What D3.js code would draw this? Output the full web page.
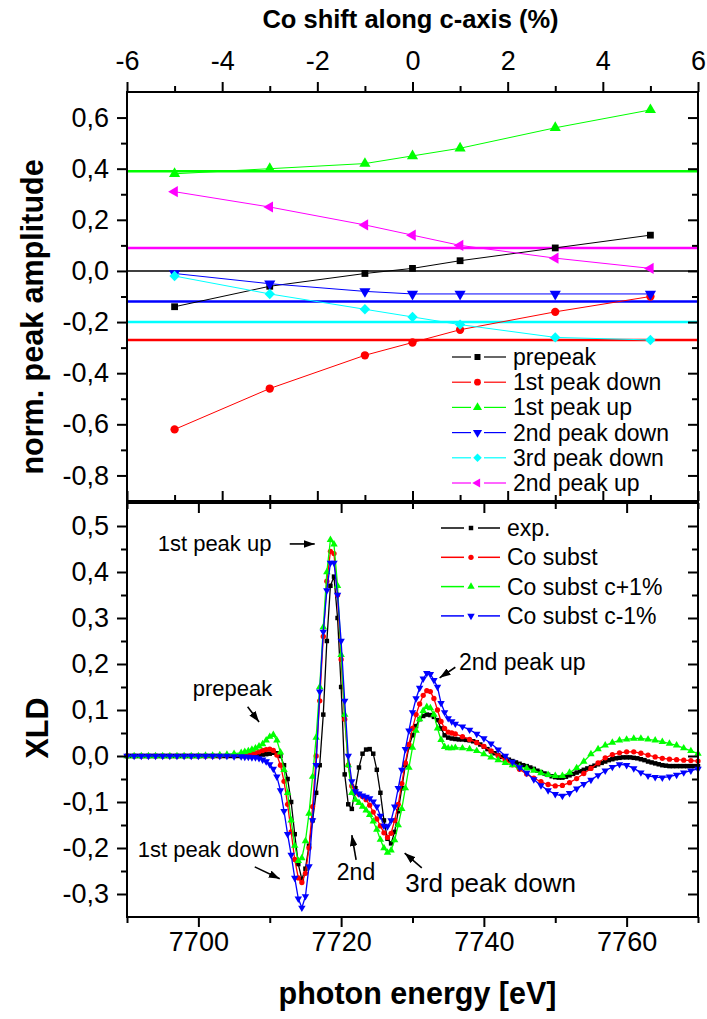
<!DOCTYPE html>
<html>
<head>
<meta charset="utf-8">
<title>XLD peak amplitudes</title>
<script src="https://cdn.jsdelivr.net/npm/d3@7"></script>
<style>
    body { margin: 0; background: #fff; }
    #chart svg { display: block; }
</style>
</head>
<body>
<div id="chart"></div>
<script>
// ---------- upper panel: peak amplitude vs Co shift ----------
let shiftList = [-5, -3, -1, 0, 1, 3, 5];
let peakNames = ['prepeak', '1st peak down', '1st peak up', '2nd peak down', '3rd peak down', '2nd peak up'];
let prepeakAmp   = [-0.14, -0.06, -0.01, 0.01, 0.04, 0.09, 0.14];
let peak1DownAmp = [-0.62, -0.46, -0.33, -0.28, -0.23, -0.16, -0.10];
let peak1UpAmp   = [0.38, 0.40, 0.42, 0.45, 0.48, 0.56, 0.63];
let peak2DownAmp = [-0.01, -0.05, -0.08, -0.09, -0.09, -0.09, -0.09];
let peak3DownAmp = [-0.02, -0.09, -0.15, -0.18, -0.21, -0.26, -0.27];
let peak2UpAmp   = [0.31, 0.25, 0.18, 0.14, 0.10, 0.05, 0.01];
// experimental amplitude of each peak (horizontal lines)
let expLevel = [0.0, -0.27, 0.39, -0.12, -0.20, 0.09];

// ---------- lower panel: XLD spectra [energy, XLD] ----------
let spectrumNames = ['exp.', 'Co subst', 'Co subst c+1%', 'Co subst c-1%'];

let expXld = [
[7690,0],[7690.5,0],[7691,0],[7691.5,0],[7692,0],[7692.5,0],[7693,0],[7693.5,0],[7694,0],[7694.5,0],
[7695,0],[7695.5,0],[7696,0],[7696.5,0],[7697,0],[7697.5,0],[7698,0],[7698.5,0],[7699,0],[7699.5,0],
[7700,0],[7700.5,0],[7701,0],[7701.5,0],[7702,0],[7702.5,0],[7703,0],[7703.5,0],[7704,0],[7704.5,0],
[7705,0],[7705.5,0],[7706,0],[7706.5,0],[7707,0],[7707.5,0],
[7708,0.001],[7708.5,0.002],[7709,0.003],[7709.5,0.004],[7710,0.005],[7710.5,0.007],[7711,0.006],[7711.5,0.0],
[7712,-0.02],[7712.5,-0.05],[7713,-0.1],[7713.5,-0.17],[7714,-0.235],[7714.5,-0.268],[7715,-0.245],[7715.5,-0.195],
[7716,-0.14],[7716.5,-0.08],[7717,-0.02],[7717.5,0.09],[7718,0.25],[7718.5,0.37],[7719,0.39],[7719.5,0.3],
[7720,0.15],[7720.5,-0.04],[7721,-0.105],[7721.5,-0.115],[7722,-0.07],[7722.5,-0.025],[7723,0.005],[7723.5,0.014],
[7724,0.015],[7724.5,0.005],[7725,-0.03],[7725.5,-0.08],[7726,-0.14],[7726.5,-0.18],[7727,-0.19],[7727.5,-0.165],
[7728,-0.12],[7728.5,-0.07],[7729,-0.02],[7729.5,0.02],[7730,0.045],[7730.5,0.065],[7731,0.08],[7731.5,0.087],
[7732,0.09],[7732.5,0.089],[7733,0.085],[7733.5,0.078],[7734,0.06],[7734.5,0.045],[7735,0.04],[7735.5,0.038],
[7736,0.037],[7736.5,0.036],[7737,0.036],[7737.5,0.035],[7738,0.034],[7738.5,0.032],[7739,0.03],[7739.5,0.025],
[7740,0.02],[7740.5,0.015],[7741,0.01],[7741.5,0.006],[7742,0.002],[7742.5,-0.002],[7743,-0.005],[7743.5,-0.008],
[7744,-0.011],[7744.5,-0.014],[7745,-0.017],[7745.5,-0.02],[7746,-0.022],[7746.5,-0.025],[7747,-0.028],[7747.5,-0.032],
[7748,-0.035],[7748.5,-0.038],[7749,-0.041],[7749.5,-0.044],[7750,-0.046],[7750.5,-0.047],[7751,-0.047],[7751.5,-0.045],
[7752,-0.042],[7752.5,-0.039],[7753,-0.036],[7753.5,-0.033],[7754,-0.03],[7754.5,-0.027],[7755,-0.024],[7755.5,-0.021],
[7756,-0.018],[7756.5,-0.015],[7757,-0.012],[7757.5,-0.009],[7758,-0.007],[7758.5,-0.005],[7759,-0.004],[7759.5,-0.003],
[7760,-0.003],[7760.5,-0.003],[7761,-0.004],[7761.5,-0.005],[7762,-0.007],[7762.5,-0.009],[7763,-0.012],[7763.5,-0.014],
[7764,-0.016],[7764.5,-0.018],[7765,-0.02],[7765.5,-0.021],[7766,-0.022],[7766.5,-0.022],[7767,-0.022],[7767.5,-0.022],
[7768,-0.022],[7768.5,-0.022],[7769,-0.022],[7769.5,-0.022],[7770,-0.022]];

let coSubst = [
[7690,0],[7691,0],[7692,0],[7693,0],[7694,0],[7695,0],[7696,0],[7697,0],[7698,0],[7699,0],[7700,0],[7701,0],
[7702,0],[7703,0],[7704,0.001],[7705,0.001],[7706,0.002],
[7706.5,0.003],[7707,0.004],[7707.5,0.005],[7708,0.007],[7708.5,0.009],[7709,0.012],[7709.5,0.014],[7710,0.015],
[7710.5,0.012],[7711,0.002],[7711.5,-0.02],[7712,-0.055],[7712.5,-0.105],[7713,-0.165],[7713.5,-0.225],[7714,-0.265],
[7714.5,-0.275],[7715,-0.255],[7715.5,-0.2],[7716,-0.11],[7716.5,0.0],[7717,0.12],[7717.5,0.26],[7718,0.38],
[7718.5,0.445],[7719,0.44],[7719.5,0.35],[7720,0.21],[7720.5,0.08],[7721,-0.02],[7721.5,-0.065],[7722,-0.078],
[7722.5,-0.083],[7723,-0.088],[7723.5,-0.095],[7724,-0.107],[7724.5,-0.122],[7725,-0.137],[7725.5,-0.152],[7726,-0.167],
[7726.5,-0.177],[7727,-0.168],[7727.5,-0.14],[7728,-0.105],[7728.5,-0.06],[7729,-0.015],[7729.5,0.025],[7730,0.06],
[7730.5,0.09],[7731,0.113],[7731.5,0.132],[7732,0.142],[7732.5,0.14],[7733,0.125],[7733.5,0.1],[7734,0.075],
[7734.5,0.06],[7735,0.052],[7735.5,0.05],[7736,0.048],
[7737,0.042],[7738,0.036],[7739,0.029],[7740,0.021],[7741,0.011],[7742,0.001],[7743,-0.009],[7744,-0.019],
[7745,-0.029],[7746,-0.039],[7747,-0.048],[7748,-0.056],[7749,-0.062],[7750,-0.065],[7751,-0.064],[7752,-0.058],
[7753,-0.049],[7754,-0.038],[7755,-0.027],[7756,-0.015],[7757,-0.004],[7758,0.003],[7759,0.007],[7760,0.009],
[7761,0.009],[7762,0.006],[7763,0.002],[7764,-0.002],[7765,-0.005],[7766,-0.007],[7767,-0.008],[7768,-0.009],
[7769,-0.01],[7770,-0.011]];

let coSubstPlus = [
[7690,0],[7691,0],[7692,0],[7693,0],[7694,0],[7695,0],[7696,0],[7697,0],[7698,0],[7699,0],[7700,0],[7701,0.001],
[7702,0.001],[7703,0.002],[7704,0.003],[7705,0.005],[7706,0.007],
[7706.5,0.009],[7707,0.011],[7707.5,0.014],[7708,0.017],[7708.5,0.021],[7709,0.026],[7709.5,0.034],[7710,0.042],
[7710.5,0.046],[7711,0.034],[7711.5,0.008],[7712,-0.03],[7712.5,-0.08],[7713,-0.14],[7713.5,-0.195],[7714,-0.228],
[7714.5,-0.222],[7715,-0.185],[7715.5,-0.125],[7716,-0.045],[7716.5,0.04],[7717,0.15],[7717.5,0.28],[7718,0.4],
[7718.5,0.47],[7719,0.46],[7719.5,0.37],[7720,0.22],[7720.5,0.09],[7721,-0.02],[7721.5,-0.08],[7722,-0.095],
[7722.5,-0.102],[7723,-0.11],[7723.5,-0.118],[7724,-0.128],[7724.5,-0.142],[7725,-0.16],[7725.5,-0.182],[7726,-0.2],
[7726.5,-0.21],[7727,-0.205],[7727.5,-0.183],[7728,-0.15],[7728.5,-0.115],[7729,-0.07],[7729.5,-0.025],[7730,0.018],
[7730.5,0.055],[7731,0.08],[7731.5,0.098],[7732,0.107],[7732.5,0.104],[7733,0.09],[7733.5,0.06],[7734,0.035],
[7734.5,0.02],[7735,0.017],[7735.5,0.017],[7736,0.018],
[7737,0.017],[7738,0.015],[7739,0.011],[7740,0.004],[7741,-0.003],[7742,-0.009],[7743,-0.015],[7744,-0.02],
[7745,-0.024],[7746,-0.027],[7747,-0.032],[7748,-0.037],[7749,-0.041],[7750,-0.043],[7751,-0.043],[7752,-0.036],
[7753,-0.026],[7754,-0.012],[7755,0.004],[7756,0.015],[7757,0.023],[7758,0.029],[7759,0.034],[7760,0.036],
[7761,0.038],[7762,0.038],[7763,0.036],[7764,0.034],[7765,0.031],[7766,0.027],[7767,0.023],[7768,0.017],
[7769,0.011],[7770,0.005]];

let coSubstMinus = [
[7690,0],[7691,0],[7692,0],[7693,0],[7694,0],[7695,0],[7696,0],[7697,0],[7698,0],[7699,0],[7700,0],[7701,0],
[7702,0],[7703,0],[7704,0],[7705,-0.001],[7706,-0.001],
[7706.5,-0.002],[7707,-0.002],[7707.5,-0.003],[7708,-0.003],[7708.5,-0.005],[7709,-0.008],[7709.5,-0.012],[7710,-0.018],
[7710.5,-0.028],[7711,-0.045],[7711.5,-0.075],[7712,-0.12],[7712.5,-0.17],[7713,-0.215],[7713.5,-0.265],[7714,-0.31],
[7714.5,-0.33],[7715,-0.305],[7715.5,-0.24],[7716,-0.14],[7716.5,-0.02],[7717,0.14],[7717.5,0.27],[7718,0.36],
[7718.5,0.42],[7719,0.42],[7719.5,0.35],[7720,0.25],[7720.5,0.12],[7721,0.0],[7721.5,-0.055],[7722,-0.077],
[7722.5,-0.082],[7723,-0.086],[7723.5,-0.089],[7724,-0.092],[7724.5,-0.099],[7725,-0.11],[7725.5,-0.13],[7726,-0.152],
[7726.5,-0.153],[7727,-0.14],[7727.5,-0.11],[7728,-0.07],[7728.5,-0.03],[7729,0.015],[7729.5,0.055],[7730,0.095],
[7730.5,0.125],[7731,0.148],[7731.5,0.168],[7732,0.18],[7732.5,0.178],[7733,0.165],[7733.5,0.15],[7734,0.115],
[7734.5,0.095],[7735,0.082],[7735.5,0.075],[7736,0.07],
[7737,0.064],[7738,0.057],[7739,0.048],[7740,0.038],[7741,0.027],[7742,0.014],[7743,0.0],[7744,-0.013],
[7745,-0.025],[7746,-0.037],[7747,-0.051],[7748,-0.064],[7749,-0.075],[7750,-0.083],[7751,-0.087],[7752,-0.081],
[7753,-0.071],[7754,-0.061],[7755,-0.052],[7756,-0.042],[7757,-0.032],[7758,-0.024],[7759,-0.018],[7760,-0.02],
[7761,-0.027],[7762,-0.036],[7763,-0.043],[7764,-0.046],[7765,-0.047],[7766,-0.045],[7767,-0.041],[7768,-0.036],
[7769,-0.032],[7770,-0.028]];

// tick values
let shiftTicks  = [-6, -4, -2, 0, 2, 4, 6];
let shiftMinor  = [-5, -3, -1, 1, 3, 5];
let ampTicks    = [-0.8, -0.6, -0.4, -0.2, 0, 0.2, 0.4, 0.6];
let ampMinor    = [-0.7, -0.5, -0.3, -0.1, 0.1, 0.3, 0.5];
let energyTicks = [7700, 7720, 7740, 7760];
let energyMinor = [7690, 7710, 7730, 7750, 7770];
let xldTicks    = [-0.3, -0.2, -0.1, 0, 0.1, 0.2, 0.3, 0.4, 0.5];
let xldMinor    = [-0.25, -0.15, -0.05, 0.05, 0.15, 0.25, 0.35, 0.45];

// ---------- layout ----------
let font = "'Liberation Sans', Arial, Helvetica, sans-serif";
let left = 127, right = 698;
let topY0 = 92, topY1 = 501;
let botY0 = 503, botY1 = 917;

let xShift  = d3.scaleLinear().domain([-6, 6]).range([left, right]);
let yAmp    = d3.scaleLinear().domain([-0.9, 0.7]).range([topY1, topY0]);
let xEnergy = d3.scaleLinear().domain([7690, 7770]).range([left, right]);
let yXld    = d3.scaleLinear().domain([-0.35, 0.55]).range([botY1, botY0]);

let svg = d3.select('#chart').append('svg')
    .attr('width', 707)
    .attr('height', 1019)
    .style('background', '#fff');

svg.append('defs').append('marker')
    .attr('id', 'head')
    .attr('viewBox', '0 0 10 7')
    .attr('refX', 10)
    .attr('refY', 3.5)
    .attr('markerWidth', 11)
    .attr('markerHeight', 7.7)
    .attr('markerUnits', 'userSpaceOnUse')
    .attr('orient', 'auto')
    .append('path')
    .attr('d', 'M0,0L10,3.5L0,7Z')
    .attr('fill', '#000');

let commaFmt = function(d){
    return d.toFixed(1).replace('.', ',');
};

function addTicks(orient, scale, pos, majorVals, minorVals, fmt) {
    let make = {left: d3.axisLeft, right: d3.axisRight, top: d3.axisTop, bottom: d3.axisBottom}[orient];
    let tr = (orient === 'left' || orient === 'right') ? 'translate(' + pos + ',0)' : 'translate(0,' + pos + ')';
    let pad = {left: 8, top: 12, bottom: 5, right: 6}[orient];
    let minor = svg.append('g')
        .attr('transform', tr)
        .call(make(scale).tickValues(minorVals).tickSize(6).tickFormat(''));
    let major = svg.append('g')
        .attr('transform', tr)
        .call(make(scale).tickValues(majorVals).tickSize(10).tickPadding(pad).tickFormat(fmt || ''));
    [minor, major].forEach(function(g){
        g.select('.domain').remove();
        g.attr('font-family', font).attr('font-size', 27);
        g.selectAll('line').attr('stroke', '#000').attr('stroke-width', 2);
        g.selectAll('text').attr('fill', '#000');
    });
}

// ---------- upper panel ----------
let peakValues = [prepeakAmp, peak1DownAmp, peak1UpAmp, peak2DownAmp, peak3DownAmp, peak2UpAmp];
let peakColors = ['#000000', '#ff0000', '#00ff00', '#0000ff', '#00ffff', '#ff00ff'];
let peakShapes = ['square', 'circle', 'up', 'down', 'diamond', 'left'];

let symbolType = {square: d3.symbolSquare, circle: d3.symbolCircle, up: d3.symbolTriangle,
                  down: d3.symbolTriangle, diamond: d3.symbolSquare, left: d3.symbolTriangle};
let symbolRot = {square: 0, circle: 0, up: 0, down: 180, diamond: 45, left: -90};

function symbolPath(shape, size) {
    return d3.symbol().type(symbolType[shape]).size(size)();
}

let topPanel = svg.append('g').attr('id', 'amplitudes');

// experimental levels
topPanel.selectAll('line.level')
    .data(expLevel)
    .enter()
    .append('line')
    .attr('class', 'level')
    .attr('x1', left)
    .attr('x2', right)
    .attr('y1', d => yAmp(d))
    .attr('y2', d => yAmp(d))
    .attr('stroke', (d, i) => peakColors[i])
    .attr('stroke-width', (d, i) => i === 0 ? 1.5 : 2.5);

let ampLine = d3.line()
    .x((d, i) => xShift(shiftList[i]))
    .y(d => yAmp(d));

peakValues.forEach(function(vals, k){
    topPanel.append('path')
        .attr('d', ampLine(vals))
        .attr('fill', 'none')
        .attr('stroke', peakColors[k])
        .attr('stroke-width', 1);
    topPanel.selectAll('.pt' + k)
        .data(vals)
        .enter()
        .append('path')
        .attr('class', 'pt' + k)
        .attr('d', symbolPath(peakShapes[k], peakShapes[k] === 'square' ? 46 : 54))
        .attr('transform', (d, i) => 'translate(' + xShift(shiftList[i]) + ',' + yAmp(d) + ') rotate(' + symbolRot[peakShapes[k]] + ')')
        .attr('fill', peakColors[k]);
});

// upper legend
let topLegend = topPanel.append('g')
    .attr('font-family', font)
    .attr('font-size', 23);

peakNames.forEach(function(name, k){
    let y = 357 + k * 25.2;
    let row = topLegend.append('g').attr('transform', 'translate(0,' + y + ')');
    row.append('line').attr('x1', 452).attr('x2', 471).attr('y1', 0).attr('y2', 0)
        .attr('stroke', peakColors[k]).attr('stroke-width', 1.2);
    row.append('line').attr('x1', 484).attr('x2', 506).attr('y1', 0).attr('y2', 0)
        .attr('stroke', peakColors[k]).attr('stroke-width', 1.2);
    row.append('path')
        .attr('d', symbolPath(peakShapes[k], 36))
        .attr('transform', 'translate(477.5,0) rotate(' + symbolRot[peakShapes[k]] + ')')
        .attr('fill', peakColors[k]);
    row.append('text')
        .attr('x', 513)
        .attr('y', 8)
        .text(name);
});

// ---------- lower panel ----------
let specData = [expXld, coSubst, coSubstPlus, coSubstMinus];
let specColors = ['#000000', '#ff0000', '#00ff00', '#0000ff'];
let specShapes = ['square', 'circle', 'up', 'down'];
let specSizes = [20, 22, 24, 24];

let botPanel = svg.append('g').attr('id', 'spectra');

let xldLine = d3.line()
    .x(d => xEnergy(d[0]))
    .y(d => yXld(d[1]));

specData.forEach(function(series, k){
    botPanel.append('path')
        .attr('d', xldLine(series))
        .attr('fill', 'none')
        .attr('stroke', specColors[k])
        .attr('stroke-width', 1.3);
    botPanel.selectAll('.sp' + k)
        .data(series)
        .enter()
        .append('path')
        .attr('class', 'sp' + k)
        .attr('d', symbolPath(specShapes[k], specSizes[k]))
        .attr('transform', d => 'translate(' + xEnergy(d[0]) + ',' + yXld(d[1]) + ') rotate(' + symbolRot[specShapes[k]] + ')')
        .attr('fill', specColors[k]);
});

// lower legend
let botLegend = botPanel.append('g')
    .attr('font-family', font)
    .attr('font-size', 23);

spectrumNames.forEach(function(name, k){
    let y = 528 + k * 29.3;
    let row = botLegend.append('g').attr('transform', 'translate(0,' + y + ')');
    row.append('line').attr('x1', 441).attr('x2', 464).attr('y1', 0).attr('y2', 0)
        .attr('stroke', specColors[k]).attr('stroke-width', 1.5);
    row.append('line').attr('x1', 478).attr('x2', 500).attr('y1', 0).attr('y2', 0)
        .attr('stroke', specColors[k]).attr('stroke-width', 1.5);
    row.append('path')
        .attr('d', symbolPath(specShapes[k], specSizes[k]))
        .attr('transform', 'translate(471,0) rotate(' + symbolRot[specShapes[k]] + ')')
        .attr('fill', specColors[k]);
    row.append('text')
        .attr('x', 507)
        .attr('y', 8)
        .text(name);
});

// annotations: label at [energy, xld], arrow from -> to
let notes = [
    {text: '1st peak up',   at: [7694.3, 0.446],  size: 22, from: [7712.8, 0.461], to: [7716.3, 0.461]},
    {text: 'prepeak',       at: [7699.2, 0.130],  size: 22, from: [7706.9, 0.107], to: [7708.5, 0.074]},
    {text: '1st peak down', at: [7691.5, -0.220], size: 22, from: [7707.9, -0.241], to: [7711.4, -0.267]},
    {text: '2nd',           at: [7719.4, -0.270], size: 23, from: [7722.1, -0.226], to: [7721.5, -0.172]},
    {text: '3rd peak down', at: [7729.0, -0.295], size: 26, from: [7731.3, -0.243], to: [7728.9, -0.211]},
    {text: '2nd peak up',   at: [7736.5, 0.188],  size: 23, from: [7736.0, 0.193], to: [7733.8, 0.170]}
];

notes.forEach(function(n){
    botPanel.append('text')
        .attr('x', xEnergy(n.at[0]))
        .attr('y', yXld(n.at[1]))
        .attr('font-family', font)
        .attr('font-size', n.size)
        .attr('fill', '#000')
        .text(n.text);
    botPanel.append('line')
        .attr('x1', xEnergy(n.from[0]))
        .attr('y1', yXld(n.from[1]))
        .attr('x2', xEnergy(n.to[0]))
        .attr('y2', yXld(n.to[1]))
        .attr('stroke', '#000')
        .attr('stroke-width', 1.6)
        .attr('marker-end', 'url(#head)');
});

// ---------- axes ----------
addTicks('top', xShift, topY0, shiftTicks, shiftMinor, d => String(d));
addTicks('top', xShift, topY1, shiftTicks, shiftMinor);
addTicks('left', yAmp, left, ampTicks, ampMinor, commaFmt);
addTicks('left', yAmp, right, ampTicks, ampMinor);

addTicks('bottom', xEnergy, botY0, energyTicks, energyMinor);
addTicks('bottom', xEnergy, botY1, energyTicks, energyMinor, d => String(d));
addTicks('left', yXld, left, xldTicks, xldMinor, commaFmt);
addTicks('left', yXld, right, xldTicks, xldMinor);

// frames
[[topY0, topY1], [botY0, botY1]].forEach(function(p){
    svg.append('rect')
        .attr('x', left)
        .attr('y', p[0])
        .attr('width', right - left)
        .attr('height', p[1] - p[0])
        .attr('fill', 'none')
        .attr('stroke', '#000')
        .attr('stroke-width', 2);
});

// axis titles
svg.append('text')
    .attr('x', (left + right) / 2 - 2)
    .attr('y', 28)
    .attr('text-anchor', 'middle')
    .attr('font-family', font)
    .attr('font-weight', 'bold')
    .attr('font-size', 25.5)
    .text('Co shift along c-axis (%)');

svg.append('text')
    .attr('x', (left + right) / 2 + 5)
    .attr('y', 1004)
    .attr('text-anchor', 'middle')
    .attr('font-family', font)
    .attr('font-weight', 'bold')
    .attr('font-size', 30.5)
    .text('photon energy [eV]');

svg.append('text')
    .attr('transform', 'translate(43,317) rotate(-90)')
    .attr('text-anchor', 'middle')
    .attr('font-family', font)
    .attr('font-weight', 'bold')
    .attr('font-size', 30.5)
    .text('norm. peak amplitude');

svg.append('text')
    .attr('transform', 'translate(48,728) rotate(-90)')
    .attr('text-anchor', 'middle')
    .attr('font-family', font)
    .attr('font-weight', 'bold')
    .attr('font-size', 30.5)
    .text('XLD');
</script>
</body>
</html>
